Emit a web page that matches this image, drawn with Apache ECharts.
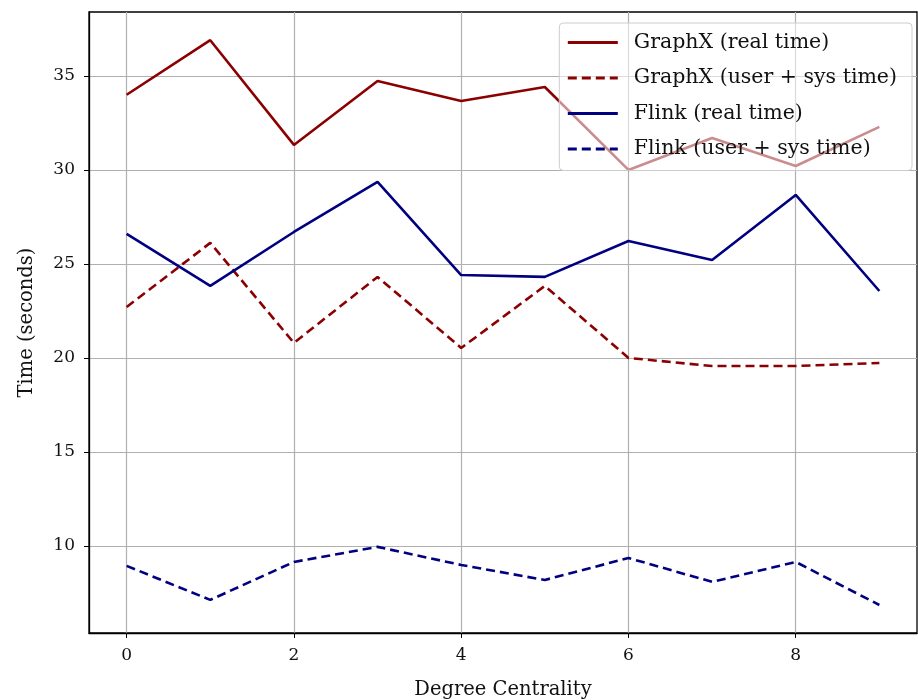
<!DOCTYPE html>
<html><head><meta charset="utf-8">
<script src="https://cdn.jsdelivr.net/npm/echarts@6/dist/echarts.min.js"></script>
<style>html,body{margin:0;padding:0;background:#fff}#c{width:918px;height:700px}</style>
</head><body><div id="c"></div>
<script>
const xValues = [0,1,2,3,4,5,6,7,8,9];
const graphxReal = [34.0,36.9,31.33,34.73,33.67,34.41,30.0,31.70,30.21,32.29];
const graphxUserSys = [22.71,26.12,20.8,24.31,20.53,23.83,20.0,19.57,19.57,19.73];
const flinkReal = [26.6,23.83,26.7,29.36,24.41,24.31,26.22,25.21,28.67,23.56];
const flinkUserSys = [8.94,7.13,9.15,9.95,8.99,8.19,9.36,8.09,9.15,6.86];
const xTicks = [0,2,4,6,8];
const yTicks = [10,15,20,25,30,35];
const seriesNames = ['GraphX (real time)','GraphX (user + sys time)','Flink (real time)','Flink (user + sys time)'];

const font = 'DejaVu Serif';
const pair = arr => xValues.map((x,i)=>[x,arr[i]]);
const mk = (name, arr, color, dashed) => ({
  name, type:'line', data: pair(arr), symbol:'none', showSymbol:false,
  lineStyle:{color, width:2.6, type: dashed ? [9,5] : 'solid'},
  itemStyle:{color}, emphasis:{disabled:true}, animation:false
});
const chart = echarts.init(document.getElementById('c'), null, {renderer:'canvas'});
chart.setOption({
  animation:false,
  grid:{left:89, right:1, top:12, bottom:67, show:true, borderColor:'#000', borderWidth:1.3, backgroundColor:'transparent', outerBoundsMode:'none', containLabel:false},
  legend:{
    right:6, top:23, orient:'vertical', itemWidth:50, itemHeight:14, itemGap:14.5,
    backgroundColor:'rgba(255,255,255,0.55)', borderColor:'#cccccc', borderWidth:1, borderRadius:4,
    padding:[9,15,11,7],
    itemStyle:{opacity:0},
    lineStyle:{width:3},
    textStyle:{fontFamily:font, fontSize:20.5, color:'#111', padding:[0,0,0,11]},
    data: seriesNames
  },
  xAxis:{
    type:'value', min:-0.45, max:9.45,
    name:'Degree Centrality', nameLocation:'middle', nameGap:47,
    nameTextStyle:{fontFamily:font, fontSize:19.5, color:'#111'},
    axisLine:{show:true, onZero:false, lineStyle:{color:'#000', width:1.3}},
    axisTick:{show:true, inside:false, length:5, customValues:xTicks, lineStyle:{color:'#000', width:1}},
    axisLabel:{customValues:xTicks, fontFamily:font, fontSize:17, color:'#111', margin:14},
    splitLine:{show:true, lineStyle:{color:'#b0b0b0', width:1.2}}
  },
  yAxis:{
    type:'value', min:5.37, max:38.4,
    name:'Time (seconds)', nameLocation:'middle', nameGap:52,
    nameTextStyle:{fontFamily:font, fontSize:19.5, color:'#111'},
    axisLine:{show:true, onZero:false, lineStyle:{color:'#000', width:1.3}},
    axisTick:{show:true, inside:false, length:5, customValues:yTicks, lineStyle:{color:'#000', width:1}},
    axisLabel:{customValues:yTicks, fontFamily:font, fontSize:17, color:'#111', margin:14},
    splitLine:{show:true, lineStyle:{color:'#b0b0b0', width:1.2}}
  },
  series:[
    mk(seriesNames[0], graphxReal, '#8b0000', false),
    mk(seriesNames[1], graphxUserSys, '#8b0000', true),
    mk(seriesNames[2], flinkReal, '#000080', false),
    mk(seriesNames[3], flinkUserSys, '#000080', true)
  ]
});
</script></body></html>
